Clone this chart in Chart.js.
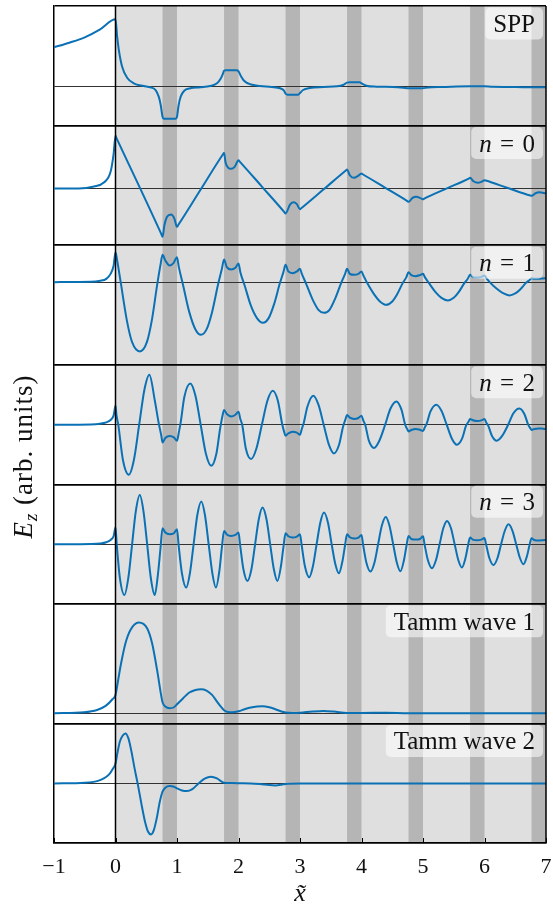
<!DOCTYPE html>
<html>
<head>
<meta charset="utf-8">
<script src="https://cdn.jsdelivr.net/npm/chart.js@4.4.1/dist/chart.umd.min.js"></script>
<style>
  html, body { margin: 0; padding: 0; background: #fff; overflow: hidden; }
  canvas { display: block; }
</style>
</head>
<body>
<canvas id="fieldChart" width="553" height="915"></canvas>
<script>
// E_z profiles, one pair of arrays per panel.
// x is the normalised coordinate, E is in arbitrary units (roughly px above each zero line).

const sppX = [
  -1, -0.75, -0.5, -0.25, 0,
  0.027, 0.054, 0.108, 0.189, 0.297, 0.46, 0.568, 0.649, 0.703, 0.735,
  0.765, 0.784, 0.978, 1.0,
  1.027, 1.06, 1.114, 1.216, 1.378, 1.54, 1.65, 1.714, 1.746,
  1.765, 1.79, 1.97, 2.0,
  2.038, 2.09, 2.19, 2.35, 2.54, 2.676, 2.74,
  2.765, 2.8, 2.97, 3.0,
  3.05, 3.16, 3.38, 3.6, 3.7,
  3.765, 3.81, 3.97, 4.0,
  4.08, 4.24, 4.51, 4.68,
  4.765, 4.99,
  5.08, 5.32, 5.765, 6.0, 6.13, 6.51, 6.77, 7.0
];
const sppE = [
  39.7, 44.3, 49.7, 57.7, 67.7,
  50.3, 37, 20.3, 9.3, 3.7, 1, -0.3, -3, -9.7, -18,
  -29.7, -31.7, -31.7, -29.7,
  -18, -9.7, -4, -1.3, -0.3, 1, 3.7, 8.7, 13,
  16.3, 16.7, 16.7, 15.7,
  11, 6.3, 2.7, 1, 0, -1.3, -3.7,
  -6.7, -7.7, -7.7, -6,
  -3, -1, 0, 0.7, 2,
  4.3, 4.7, 4.7, 3.7,
  1.3, 0.3, 0, -0.7,
  -1.3, -1.3,
  -0.5, 0, 0.8, 0.8, 0.2, 0, -0.3, -0.3
];

const n0X = [
  -1, -0.6, -0.35, -0.19, -0.08, -0.03, 0,
  0.02, 0.38, 0.745,
  0.765, 0.795, 0.838, 0.903, 0.957, 1.0,
  1.02, 1.38, 1.745,
  1.765, 1.79, 1.83, 1.88, 1.94, 2.0,
  2.02, 2.38, 2.745,
  2.765, 2.838, 2.89, 2.946, 3.0,
  3.02, 3.38, 3.745,
  3.765, 3.81, 3.876, 3.946, 4.0,
  4.02, 4.38, 4.745,
  4.765, 4.83, 4.89, 4.95, 5.0,
  5.02, 5.38, 5.745,
  5.765, 5.82, 5.89, 5.95, 6.0,
  6.02, 6.38, 6.745,
  6.765, 6.83, 6.89, 7.0
];
const n0E = [
  0, 0, 2, 6, 16.7, 35, 52.7,
  50, 3, -45.5,
  -48.3, -36.7, -28.3, -26, -30, -38.3,
  -36.5, -1.5, 34,
  35.7, 26, 21, 19.7, 22, 28.3,
  27, 2, -23.5,
  -25, -16, -13.7, -15.3, -20.7,
  -19.7, -1, 18,
  19, 13.3, 10.7, 12.7, 15,
  14.3, 1, -12.5,
  -13.3, -9.3, -8.3, -9.3, -10.7,
  -10, 0, 10,
  10.7, 7.3, 5.7, 6.7, 8.3,
  8, 0.5, -7,
  -7.3, -4.7, -3.7, -5
];

const n1X = [
  -1, -0.4, -0.25, -0.15, -0.08, -0.03, 0,
  0.027, 0.08, 0.19, 0.27, 0.395, 0.51, 0.595, 0.676, 0.73, 0.765,
  0.81, 0.88, 0.946, 1.0,
  1.03, 1.1, 1.2, 1.3, 1.39, 1.48, 1.57, 1.67, 1.73, 1.765,
  1.81, 1.88, 1.95, 2.0,
  2.03, 2.1, 2.2, 2.3, 2.395, 2.49, 2.58, 2.67, 2.73, 2.765,
  2.81, 2.88, 2.95, 3.0,
  3.03, 3.1, 3.2, 3.3, 3.39, 3.48, 3.57, 3.67, 3.73, 3.765,
  3.81, 3.88, 3.95, 4.0,
  4.03, 4.1, 4.2, 4.3, 4.405, 4.5, 4.58, 4.67, 4.73, 4.765,
  4.81, 4.88, 4.95, 5.0,
  5.03, 5.1, 5.2, 5.3, 5.405, 5.5, 5.58, 5.67, 5.73, 5.765,
  5.81, 5.88, 5.95, 6.0,
  6.03, 6.1, 6.2, 6.3, 6.405, 6.5, 6.58, 6.67, 6.73, 6.765,
  6.81, 6.88, 6.95, 7.0
];
const n1E = [
  0, 0.3, 1.3, 3.3, 8.3, 16.7, 30,
  21.7, 1.7, -40, -60, -69.3, -60, -36.7, -3.3, 16.7, 27.3,
  21.7, 16.7, 19.3, 25,
  15, -3.3, -30, -47.3, -52.7, -47.3, -30, -1.7, 13.3, 22.7,
  15, 12.7, 14.3, 18.7,
  10, -3.3, -23.3, -36, -40.7, -36, -21.7, -1.7, 10, 17.3,
  10.7, 9, 10.7, 13.3,
  8.3, -1.7, -16.7, -27.7, -30.7, -27.7, -16.7, -0.7, 7.7, 13.3,
  8.3, 7.3, 8.3, 10.7,
  6.7, -1.7, -11.7, -19.3, -22.7, -19.3, -12, -1, 5, 10,
  7, 6, 7, 8.3,
  5, -1.3, -9.7, -15.7, -18.3, -15.7, -10, -1.3, 3.7, 7.3,
  5.3, 4.7, 5.3, 6.7,
  4, -1, -6.7, -11, -13.3, -11.3, -7.3, -1, 2, 4,
  3.3, 3.3, 3.7, 4
];

const n2X = [
  -1, -0.4, -0.25, -0.15, -0.08, -0.03, 0,
  0.015, 0.045, 0.12, 0.216, 0.3, 0.385, 0.47, 0.55, 0.64, 0.7, 0.745, 0.765,
  0.81, 0.88, 0.95, 1.0,
  1.03, 1.06, 1.12, 1.216, 1.3, 1.385, 1.47, 1.557, 1.64, 1.7, 1.74, 1.765,
  1.81, 1.88, 1.95, 2.0,
  2.03, 2.06, 2.12, 2.205, 2.29, 2.38, 2.47, 2.557, 2.64, 2.71, 2.745, 2.765,
  2.81, 2.88, 2.95, 3.0,
  3.03, 3.06, 3.12, 3.216, 3.3, 3.385, 3.47, 3.55, 3.635, 3.7, 3.74, 3.765,
  3.81, 3.88, 3.95, 4.0,
  4.03, 4.06, 4.12, 4.205, 4.29, 4.385, 4.47, 4.567, 4.65, 4.71, 4.745, 4.765,
  4.81, 4.88, 4.95, 5.0,
  5.03, 5.06, 5.12, 5.216, 5.3, 5.385, 5.47, 5.55, 5.635, 5.7, 5.74, 5.765,
  5.81, 5.88, 5.95, 6.0,
  6.03, 6.06, 6.12, 6.2, 6.29, 6.385, 6.47, 6.567, 6.65, 6.71, 6.745, 6.765,
  6.81, 6.88, 6.95, 7.0
];
const n2E = [
  0, 0.3, 1, 2.3, 4.7, 9.3, 19,
  10, 0, -35, -50, -35, 0, 35, 50, 24, 2.3, -11, -17.7,
  -13.3, -11.3, -12.7, -16,
  -7.7, 2.3, 28, 41.3, 29, 0, -29, -41, -29, -4.3, 9, 14.7,
  10.7, 8.3, 10, 13,
  5.7, 0, -24, -34.3, -24, 0, 24, 34, 24, 0.7, -7.7, -11,
  -8.7, -7, -8, -10,
  -4, 1.5, 18, 29, 20, 0, -20, -28.7, -20, -2, 5.5, 9.7,
  7, 5.7, 6.7, 9,
  4, 0, -16, -23.3, -16, 0, 16, 23.3, 15, 0, -4.5, -6.7,
  -5.3, -4.3, -5, -6.3,
  -2.5, 1, 13, 20, 14, 0, -14, -20, -14, -1, 3, 5.7,
  4.5, 3.7, 4.3, 5.7,
  2, -1, -11, -16, -11, 0, 11.5, 16.3, 10.5, 0, -3.5, -5.3,
  -4.3, -3.7, -4, -4.3
];

const n3X = [
  -1, -0.4, -0.25, -0.15, -0.08, -0.03, 0,
  0.02, 0.07, 0.146, 0.21, 0.27, 0.33, 0.395, 0.455, 0.515, 0.575, 0.638, 0.69, 0.73, 0.765,
  0.81, 0.88, 0.95, 1.0,
  1.025, 1.08, 1.15, 1.21, 1.27, 1.33, 1.395, 1.455, 1.515, 1.575, 1.633, 1.69, 1.73, 1.765,
  1.81, 1.88, 1.95, 2.0,
  2.025, 2.08, 2.146, 2.21, 2.27, 2.33, 2.39, 2.455, 2.515, 2.575, 2.633, 2.69, 2.73, 2.765,
  2.81, 2.88, 2.95, 3.0,
  3.025, 3.08, 3.15, 3.21, 3.27, 3.33, 3.39, 3.455, 3.515, 3.575, 3.633, 3.69, 3.73, 3.765,
  3.81, 3.88, 3.95, 4.0,
  4.025, 4.08, 4.146, 4.21, 4.27, 4.33, 4.395, 4.455, 4.515, 4.575, 4.633, 4.69, 4.73, 4.765,
  4.81, 4.88, 4.95, 5.0,
  5.025, 5.08, 5.146, 5.21, 5.27, 5.33, 5.39, 5.455, 5.515, 5.575, 5.633, 5.69, 5.73, 5.765,
  5.81, 5.88, 5.95, 6.0,
  6.025, 6.08, 6.146, 6.21, 6.27, 6.33, 6.39, 6.455, 6.515, 6.575, 6.633, 6.69, 6.73, 6.765,
  6.81, 6.88, 6.95, 7.0
];
const n3E = [
  0, 0.3, 0.8, 2, 4.3, 8.3, 16.7,
  0, -33, -50.7, -33, 0, 33, 49.3, 33, 0, -34, -50.7, -30, -5, 16,
  11.7, 10, 11, 15,
  0, -29, -43.3, -29, 0, 29, 42.7, 29, 0, -29, -43.3, -26, -3, 13.3,
  9.7, 8.3, 9.3, 11.7,
  0, -25, -36.7, -25, 0, 25, 36.7, 25, 0, -25, -36.7, -22, -3, 11,
  8, 6.7, 7.7, 10,
  0, -22, -33, -22, 0, 21.5, 31.7, 21.5, 0, -20, -29, -17, -2, 10,
  7, 5.7, 6.7, 9.3,
  0, -18.5, -27.3, -18.5, 0, 18.5, 27.3, 18.5, 0, -18.5, -27, -16, -2, 8.3,
  5.3, 4.7, 5.3, 8,
  0, -16, -24, -16, 0, 16, 23.3, 16, 0, -16, -23.3, -14, -2, 6.7,
  4.7, 4, 4.7, 6.3,
  0, -14, -20.7, -14, 0, 13.5, 20, 13.5, 0, -13.5, -20, -12, -1.5, 6,
  4.3, 3.7, 4, 4.3
];

const t1X = [
  -1, -0.51, -0.3, -0.16, -0.05, 0,
  0.04, 0.081, 0.162, 0.243, 0.378, 0.514, 0.595, 0.676, 0.746, 0.765,
  0.81, 0.88, 0.95, 1.0,
  1.1, 1.2, 1.3, 1.39, 1.48, 1.57, 1.65, 1.72, 1.765,
  1.83, 1.9, 2.0,
  2.1, 2.2, 2.3, 2.39, 2.5, 2.6, 2.7, 2.765,
  2.88, 3.0, 3.2, 3.38, 3.55, 3.765, 4.0, 4.4, 4.765, 5.5, 7.0
];
const t1E = [
  0, 1, 3.3, 7.3, 14, 18.3,
  32, 46.7, 70, 83.3, 90.7, 85, 70, 43.3, 16.7, 11,
  6.7, 5, 6, 9,
  15, 20.7, 23.3, 24, 22.7, 18.3, 11.7, 6, 3,
  1.3, 1, 2,
  4, 5.7, 6.7, 7, 6, 4, 1.7, 0.7,
  0.3, 0.5, 1.7, 2.3, 1.7, 0.3, 0.3, 0.5, 0.1, 0.1, 0
];

const t2X = [
  -1, -0.5, -0.3, -0.19, -0.1, -0.05, 0,
  0.03, 0.07, 0.115, 0.162, 0.21, 0.26, 0.31, 0.36, 0.42, 0.48, 0.53, 0.578, 0.62, 0.67, 0.72, 0.765,
  0.81, 0.88, 0.95, 1.0,
  1.08, 1.16, 1.25, 1.35, 1.45, 1.55, 1.65, 1.72, 1.765,
  1.9, 2.0, 2.2, 2.35, 2.5, 2.6, 2.7, 2.765, 3.0, 7.0
];
const t2E = [
  0, 0.7, 2.3, 5, 9.3, 14, 20,
  30, 41.7, 47.7, 50, 45, 31.7, 15, 0, -20, -38.3, -48.3, -51, -47.3, -35, -18.3, -8.3,
  -4.3, -2.7, -3.3, -5,
  -7, -7.7, -5.7, 0, 4.7, 6.7, 5, 2, 0.7,
  0.3, 0.2, 0, -0.7, -1.7, -2, -1.3, -0.5, 0, 0
];

// panels top to bottom
const panelLabels = ['SPP', 'n = 0', 'n = 1', 'n = 2', 'n = 3', 'Tamm wave 1', 'Tamm wave 2'];
const panelX = [sppX, n0X, n1X, n2X, n3X, t1X, t2X];
const panelE = [sppE, n0E, n1E, n2E, n3E, t1E, t2E];
const panelMin = [-38.6, -56.6, -82.6, -59.6, -59.6, -10.2, -59.6];
const panelMax = [81, 63, 37, 60, 60, 109.4, 60];

// metal half-space x < 0, then the multilayer: light background, dark layers
const stackRange = [0, 7];
const darkLayers = [
  [0.765, 1.0], [1.765, 2.0], [2.765, 3.0], [3.765, 4.0],
  [4.765, 5.0], [5.765, 6.0], [6.765, 7.0]
];

const serif = '"Liberation Serif", "Times New Roman", serif';
const lineBlue = '#0a71b5';

const panelIds = panelLabels.map((_, i) => 'p' + i);

const toPoints = (xs, ys) => xs.map((x, i) => ({ x: x, y: ys[i] }));

const datasets = panelIds.map((id, i) => ({
  label: panelLabels[i],
  data: toPoints(panelX[i], panelE[i]),
  yAxisID: id,
  xAxisID: 'x',
  borderColor: lineBlue,
  borderWidth: 2,
  pointRadius: 0,
  cubicInterpolationMode: 'monotone',
  fill: false
}));

const scales = {
  x: {
    type: 'linear',
    position: 'bottom',
    min: -1,
    max: 7,
    grid: { display: false, drawTicks: false },
    border: { display: true, color: '#000', width: 1.5 },
    ticks: {
      stepSize: 1,
      padding: 0,
      maxRotation: 0,
      color: '#111',
      // tall line box pushes the labels down, like the reference spacing
      font: { family: serif, size: 22, lineHeight: 2.2 },
      callback: v => (v < 0 ? '\u2212' + Math.abs(v) : String(v))
    },
    title: {
      display: true,
      text: 'x\u0303',
      color: '#111',
      font: { family: serif, size: 26, style: 'italic' },
      padding: { top: 0, bottom: 3 }
    },
    afterFit: scale => { scale.height = 70; }
  }
};

// stacked y axes, one per panel; grid lines only at the panel edges and at zero.
// Chart.js stacks left axes from the last defined one downwards, so add them bottom panel first.
panelIds.slice().reverse().forEach(id => {
  const i = panelIds.indexOf(id);
  scales[id] = {
    type: 'linear',
    position: 'left',
    stack: 'panels',
    stackWeight: 1,
    offset: false,
    min: panelMin[i],
    max: panelMax[i],
    afterBuildTicks: axis => {
      axis.ticks = [{ value: axis.min }, { value: 0 }, { value: axis.max }];
    },
    ticks: { display: false },
    grid: {
      drawTicks: false,
      color: c => (c.tick && c.tick.value === 0 ? '#333' : '#000'),
      lineWidth: c => (c.tick && c.tick.value === 0 ? 1 : 1.5)
    },
    border: { display: true, color: '#000', width: 1.5 }
  };
});

const layersPlugin = {
  id: 'layers',
  beforeDraw(chart) {
    const { ctx, chartArea: a, scales: { x } } = chart;
    const x0 = x.getPixelForValue(stackRange[0]);
    const x1 = x.getPixelForValue(stackRange[1]);
    ctx.save();
    ctx.fillStyle = '#dfdfdf';
    ctx.fillRect(x0, a.top, x1 - x0, a.height);
    ctx.fillStyle = '#b5b5b5';
    darkLayers.forEach(([s, e]) => {
      const ps = x.getPixelForValue(s);
      ctx.fillRect(ps, a.top, x.getPixelForValue(e) - ps, a.height);
    });
    ctx.restore();
  },
  afterDatasetsDraw(chart) {
    const { ctx, chartArea: a, scales: { x } } = chart;
    const x0 = x.getPixelForValue(0);
    ctx.save();
    ctx.strokeStyle = '#000';
    ctx.lineWidth = 1.5;
    ctx.beginPath();
    ctx.moveTo(x0, a.top);
    ctx.lineTo(x0, a.bottom);
    ctx.moveTo(a.right, a.top);
    ctx.lineTo(a.right, a.bottom);
    ctx.stroke();
    // small inward ticks on the bottom panel
    ctx.lineWidth = 1;
    ctx.beginPath();
    x.ticks.forEach(t => {
      const px = Math.round(x.getPixelForValue(t.value)) + 0.5;
      ctx.moveTo(px, a.bottom);
      ctx.lineTo(px, a.bottom - 5);
    });
    ctx.stroke();
    ctx.restore();
  },
  afterDraw(chart) {
    const { ctx, chartArea: a } = chart;
    ctx.save();

    // panel name boxes, top right
    const size = 25;
    panelIds.forEach((id, i) => {
      const s = chart.scales[id];
      const m = /^n = (\d)$/.exec(panelLabels[i]);
      const parts = m
        ? [{ t: 'n', font: `italic ${size}px ${serif}` }, { t: '\u2004=\u2004' + m[1], font: `${size}px ${serif}` }]
        : [{ t: panelLabels[i], font: `${size}px ${serif}` }];
      let w = 0;
      parts.forEach(p => { ctx.font = p.font; p.w = ctx.measureText(p.t).width; w += p.w; });
      const bw = w + 16, bh = 32;
      const bx = a.right - 3 - bw, by = s.top + 1.5;
      ctx.fillStyle = 'rgba(255,255,255,0.55)';
      ctx.beginPath();
      ctx.roundRect(bx, by, bw, bh, 5);
      ctx.fill();
      ctx.fillStyle = '#111';
      ctx.textBaseline = 'alphabetic';
      let tx = bx + 8;
      parts.forEach(p => {
        ctx.font = p.font;
        ctx.fillText(p.t, tx, by + bh / 2 + 8.5);
        tx += p.w;
      });
    });

    // y axis title: E_z (arb. units), a touch spaced out like the LaTeX original
    ctx.letterSpacing = '1px';
    const yParts = [
      { t: 'E', font: `italic 27px ${serif}`, dy: 0 },
      { t: 'z', font: `italic 19px ${serif}`, dy: 5 },
      { t: ' (arb. units)', font: `27px ${serif}`, dy: 0 }
    ];
    let tw = 0;
    yParts.forEach(p => { ctx.font = p.font; p.w = ctx.measureText(p.t).width; tw += p.w; });
    ctx.translate(32, (a.top + a.bottom) / 2 + 32);
    ctx.rotate(-Math.PI / 2);
    ctx.fillStyle = '#111';
    ctx.textBaseline = 'alphabetic';
    let cx = -tw / 2;
    yParts.forEach(p => {
      ctx.font = p.font;
      ctx.fillText(p.t, cx, p.dy);
      cx += p.w;
    });
    ctx.restore();
  }
};

new Chart(document.getElementById('fieldChart').getContext('2d'), {
  type: 'line',
  data: { datasets: datasets },
  options: {
    responsive: false,
    animation: false,
    devicePixelRatio: 1,
    layout: { padding: { left: 54, right: 7, top: 6, bottom: 2 } },
    plugins: {
      legend: { display: false },
      tooltip: { enabled: false }
    },
    scales: scales
  },
  plugins: [layersPlugin]
});
</script>
</body>
</html>
